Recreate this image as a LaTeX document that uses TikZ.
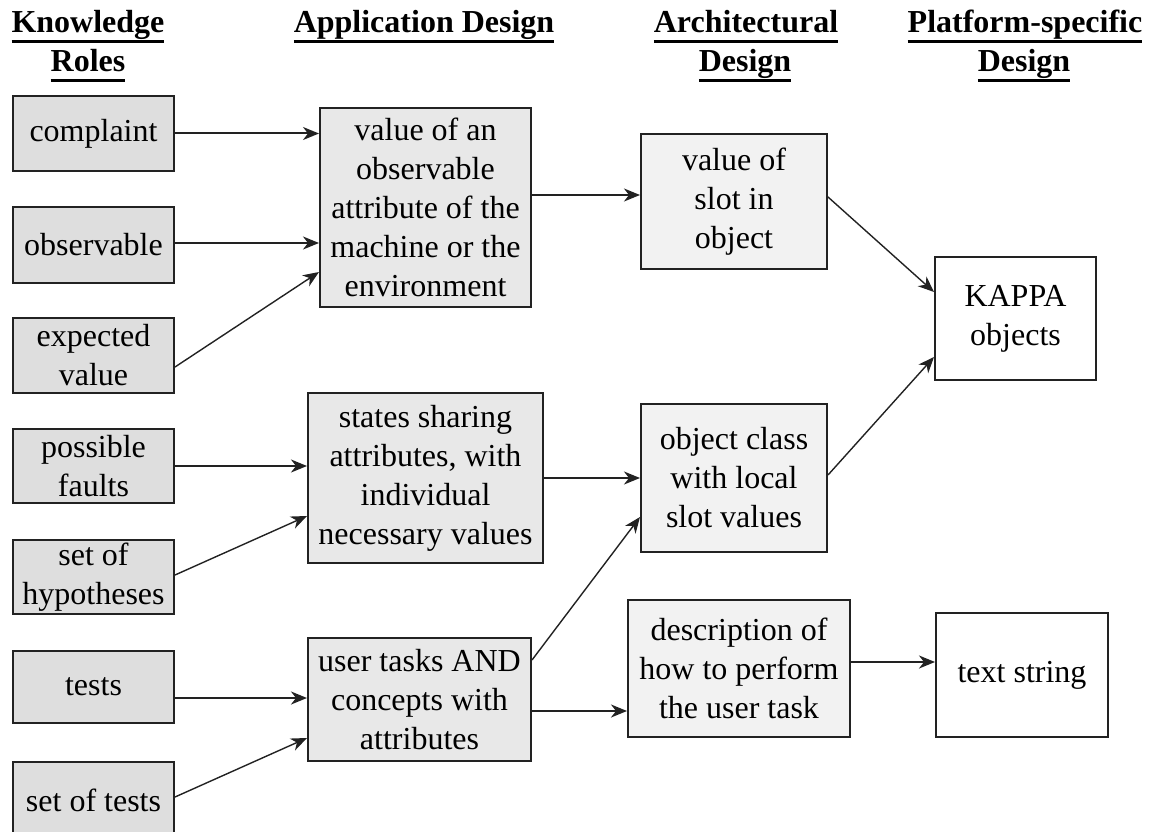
\documentclass[tikz,border=0pt]{standalone}
\usepackage{fontspec}
\setmainfont{Liberation Serif}
\usetikzlibrary{arrows.meta}
\definecolor{roleFill}{HTML}{DEDEDE}
\definecolor{appFill}{HTML}{E8E8E8}
\definecolor{archFill}{HTML}{F2F2F2}
\definecolor{lineCol}{HTML}{222222}
\newcommand\ulhead[1]{\setbox0\hbox{#1}\rlap{\vrule height -7.5pt depth 10.5pt width \wd0}\box0}
\begin{document}
\begin{tikzpicture}[x=1pt,y=-1pt,
  bx/.style={draw=lineCol, line width=2pt, inner sep=0pt, align=center,
             font=\fontsize{32}{39}\selectfont},
  role/.style={bx, fill=roleFill, minimum width=161pt},
  app/.style={bx, fill=appFill},
  arch/.style={bx, fill=archFill},
  plat/.style={bx, fill=white},
  head/.style={inner sep=0pt, anchor=base, font=\fontsize{32}{39}\selectfont\bfseries},
  arr/.style={-{Stealth[length=16pt,width=13pt,inset=5pt]}, line width=2pt, draw=lineCol},
  darr/.style={arr, line width=1.4pt}]
\useasboundingbox (0,0) rectangle (1159,832);
\clip (0,0) rectangle (1159,832);

% headers
\node[head] (h1a) at (88,33) {\ulhead{Knowledge}};
\node[head] (h1b) at (88,72) {\ulhead{Roles}};
\node[head] (h2) at (424,33) {\ulhead{Application Design}};
\node[head] (h3a) at (746,33) {\ulhead{Architectural}};
\node[head] (h3b) at (745,72) {\ulhead{Design}};
\node[head] (h4a) at (1025,33) {\ulhead{Platform-specific}};
\node[head] (h4b) at (1024,72) {\ulhead{Design}};

% knowledge roles
\node[role, minimum height=75pt] (complaint) at (93.5,133.5) {complaint};
\node[role, minimum height=76pt] (observable) at (93.5,245) {observable};
\node[role, minimum height=75pt] (expected) at (93.5,355.5) {expected\\value};
\node[role, minimum height=74pt] (faults) at (93.5,466) {possible\\faults};
\node[role, minimum height=74pt] (hypotheses) at (93.5,577) {set of\\hypotheses};
\node[role, minimum height=72pt] (tests) at (93.5,687) {tests};
\node[role, minimum height=76pt] (settests) at (93.5,800) {set of tests};

% application design
\node[app, minimum width=211pt, minimum height=199pt] (value) at (425.5,207.5)
  {value of an\\observable\\attribute of the\\machine or the\\environment};
\node[app, minimum width=235pt, minimum height=170pt] (states) at (425.5,478)
  {states sharing\\attributes, with\\individual\\necessary values};
\node[app, minimum width=223pt, minimum height=123pt] (usertasks) at (419.5,699.5)
  {user tasks AND\\concepts with\\attributes};

% architectural design
\node[arch, minimum width=186pt, minimum height=135pt] (slot) at (734,201.5)
  {value of\\slot in\\object};
\node[arch, minimum width=186pt, minimum height=148pt] (objclass) at (734,478)
  {object class\\with local\\slot values};
\node[arch, minimum width=222pt, minimum height=137pt] (descr) at (739,668.5)
  {description of\\how to perform\\the user task};

% platform-specific design
\node[plat, minimum width=161pt, minimum height=123pt] (kappa) at (1015.5,318.5)
  {KAPPA\\objects};
\node[plat, minimum width=172pt, minimum height=124pt] (textstr) at (1022,675)
  {text string};

% helper coordinates
\coordinate (cA) at (complaint.east);
\coordinate (cB) at ([yshift=2pt]observable.east);
\coordinate (cF) at (faults.east);
\coordinate (cT) at ([yshift=-11pt]tests.east);
\coordinate (cV) at ([yshift=12.5pt]value.east);
\coordinate (cS) at (states.east);
\coordinate (cU) at ([yshift=-11.5pt]usertasks.east);
\coordinate (cD) at ([yshift=6.5pt]descr.east);

% connectors
\draw[arr] (cA) -- (cA -| value.west);
\draw[arr] (cB) -- (cB -| value.west);
\draw[darr] ([yshift=-11.5pt]expected.east) -- ([yshift=-64.5pt]value.west);
\draw[arr] (cF) -- (cF -| states.west);
\draw[darr] ([yshift=2pt]hypotheses.east) -- ([yshift=-38pt]states.west);
\draw[arr] (cT) -- (cT -| usertasks.west);
\draw[darr] ([yshift=3pt]settests.east) -- ([yshift=-38.5pt]usertasks.west);
\draw[arr] (cV) -- (cV -| slot.west);
\draw[arr] (cS) -- (cS -| objclass.west);
\draw[darr] ([yshift=39.5pt]usertasks.east) -- ([yshift=-39pt]objclass.west);
\draw[arr] (cU) -- (cU -| descr.west);
\draw[darr] ([yshift=4.5pt]slot.east) -- ([yshift=26.5pt]kappa.west);
\draw[darr] ([yshift=3pt]objclass.east) -- ([yshift=-38.5pt]kappa.west);
\draw[arr] (cD) -- (cD -| textstr.west);
\end{tikzpicture}
\end{document}
